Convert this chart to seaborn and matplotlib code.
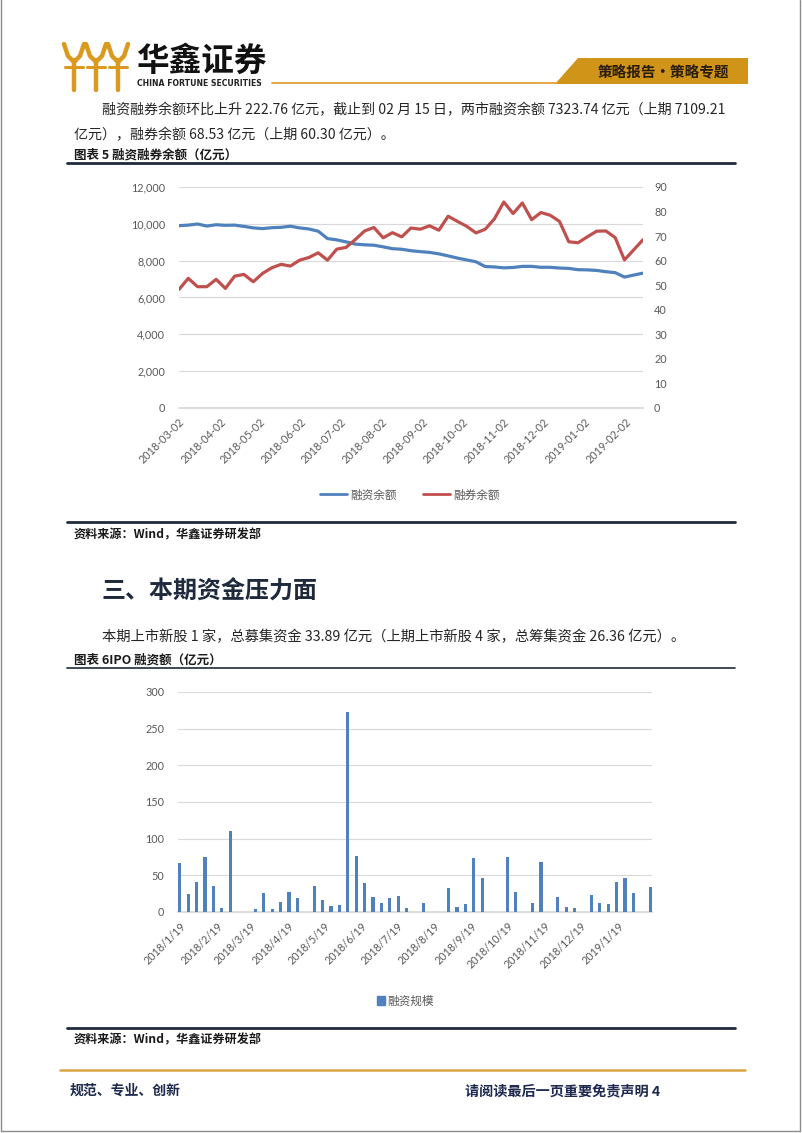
import numpy as np
import pandas as pd
import matplotlib
matplotlib.use("Agg")
import matplotlib.pyplot as plt
from matplotlib.lines import Line2D
from matplotlib.patches import Polygon, Patch
from matplotlib.ticker import FuncFormatter, MultipleLocator
import seaborn as sns

# ---------------- data ----------------
margin_dates = list(pd.date_range("2018-03-02", "2019-02-01", freq="7D")) + [pd.Timestamp("2019-02-15")]
financing_balance = [9900, 9930, 9990, 9880, 9950, 9920, 9930, 9860, 9780, 9740,
                     9790, 9810, 9870, 9780, 9720, 9600, 9200, 9130, 9020, 8900,
                     8860, 8840, 8750, 8650, 8620, 8540, 8490, 8450, 8370, 8260,
                     8140, 8040, 7940, 7680, 7660, 7610, 7630, 7690, 7690, 7640,
                     7640, 7600, 7580, 7510, 7500, 7470, 7400, 7350, 7109.21, 7323.74]
securities_balance = [48.3, 52.8, 49.4, 49.4, 52.4, 48.7, 53.7, 54.4, 51.4, 54.8,
                      57.1, 58.5, 57.8, 60.2, 61.3, 63.2, 60.2, 64.7, 65.4, 68.6,
                      72.1, 73.5, 69.3, 71.4, 69.7, 73.3, 72.8, 74.2, 72.4, 78.1,
                      76.0, 74.0, 71.3, 72.8, 77.1, 83.9, 79.2, 83.5, 76.7, 79.6,
                      78.5, 76.0, 67.7, 67.3, 69.7, 72.0, 72.1, 69.4, 60.30, 68.53]
margin_ticks = ["2018-03-02", "2018-04-02", "2018-05-02", "2018-06-02", "2018-07-02",
                "2018-08-02", "2018-09-02", "2018-10-02", "2018-11-02", "2018-12-02",
                "2019-01-02", "2019-02-02"]

ipo_dates = ["2018-01-19", "2018-01-26", "2018-02-02", "2018-02-09", "2018-02-16",
             "2018-02-23", "2018-03-02", "2018-03-23", "2018-03-30", "2018-04-06",
             "2018-04-13", "2018-04-20", "2018-04-27", "2018-05-11", "2018-05-18",
             "2018-05-25", "2018-06-01", "2018-06-08", "2018-06-15", "2018-06-22",
             "2018-06-29", "2018-07-06", "2018-07-13", "2018-07-20", "2018-07-27",
             "2018-08-10", "2018-08-31", "2018-09-07", "2018-09-14", "2018-09-21",
             "2018-09-28", "2018-10-19", "2018-10-26", "2018-11-09", "2018-11-16",
             "2018-11-30", "2018-12-07", "2018-12-14", "2018-12-28", "2019-01-04",
             "2019-01-11", "2019-01-18", "2019-01-25", "2019-02-01", "2019-02-15"]
ipo_amount = [67, 24, 41, 75, 35, 5, 110, 4, 26, 4,
              14, 27, 19, 36, 16, 8, 9.5, 273, 76, 40,
              21, 12, 19, 22, 6, 12.7, 33, 7, 11, 73.6,
              46, 75.5, 27, 12, 68, 21, 6.4, 5, 22.7, 12.7,
              11.4, 41, 46, 26.36, 33.89]
ipo_ticks = ["2018-01-19", "2018-02-19", "2018-03-19", "2018-04-19", "2018-05-19",
             "2018-06-19", "2018-07-19", "2018-08-19", "2018-09-19", "2018-10-19",
             "2018-11-19", "2018-12-19", "2019-01-19"]
ipo_tick_labels = ["2018/1/19", "2018/2/19", "2018/3/19", "2018/4/19", "2018/5/19",
                   "2018/6/19", "2018/7/19", "2018/8/19", "2018/9/19", "2018/10/19",
                   "2018/11/19", "2018/12/19", "2019/1/19"]

# ---------------- style ----------------
sns.set_theme(style="white")
plt.rcParams["font.family"] = ["Noto Sans CJK SC", "DejaVu Sans"]

W, H = 802, 1133
fig = plt.figure(figsize=(W / 100, H / 100), dpi=100)

def fx(x): return x / W
def fy(y): return 1 - y / H
def T(x, y, s, **kw):
    kw.setdefault("va", "center")
    fig.text(fx(x), fy(y), s, **kw)
def L(xs, ys, color, lw, **kw):
    fig.add_artist(Line2D([fx(v) for v in xs], [fy(v) for v in ys], color=color, lw=lw,
                          transform=fig.transFigure, **kw))

BLUE = "#4F81BD"
RED = "#C0504D"
GRID = "#D9D9D9"
TICK = "#595959"
NAVY = "#1F2A3C"
TICKFONT = ["Lato", "DejaVu Sans"]

# ---------------- page frame ----------------
L([1, 1], [0, 1131], "#8C8C8C", 1)
L([800, 800], [0, 1131], "#8C8C8C", 1)
L([1, 800], [1131, 1131], "#8C8C8C", 1)

# ---------------- header ----------------
GOLD = "#D99A1F"
for cx in [74, 96, 118]:
    L([cx - 10, cx - 6, cx, cx + 6, cx + 10], [44, 56, 62, 56, 44], GOLD, 3.2,
      solid_capstyle="round")
    L([cx, cx], [60, 90], GOLD, 3.2, solid_capstyle="round")
    L([cx - 9, cx + 9], [67, 67], GOLD, 2.2)
T(136, 61, "华鑫证券", fontsize=23.5, fontweight="bold", color="#111111")
T(137, 83, "CHINA FORTUNE SECURITIES", fontsize=5.6, fontweight="bold",
  color="#222222", family=["DejaVu Sans"])
L([272, 557], [83, 83], "#E3A03A", 1.3)
fig.add_artist(Polygon([[fx(555), fy(84)], [fx(578), fy(58)], [fx(748), fy(58)], [fx(748), fy(84)]],
                       closed=True, facecolor="#D09418", edgecolor="none",
                       transform=fig.transFigure))
T(663, 72, "策略报告·策略专题", fontsize=10.5, color="#2B1D0E", ha="center",
  fontweight="bold")

# ---------------- text block 1 ----------------
BODY = "#262626"
BODYSIZE = 10.1
T(102, 110, "融资融券余额环比上升 222.76 亿元，截止到 02 月 15 日，两市融资余额 7323.74 亿元（上期 7109.21",
  fontsize=BODYSIZE, color=BODY)
T(74, 135, "亿元），融券余额 68.53 亿元（上期 60.30 亿元）。", fontsize=BODYSIZE, color=BODY)
T(74, 155, "图表 5 融资融券余额（亿元）", fontsize=9, fontweight="bold", color="#1A1A1A")
L([67, 735], [163, 163], NAVY, 2)

# ---------------- chart 1 ----------------
ax1 = fig.add_axes([fx(179), fy(408), fx(643) - fx(179), (408 - 187) / H])
ax1r = ax1.twinx()
df1 = pd.DataFrame({"date": margin_dates, "fin": financing_balance, "sec": securities_balance})
sns.lineplot(data=df1, x="date", y="fin", ax=ax1, color=BLUE, linewidth=2.3, zorder=3)
sns.lineplot(data=df1, x="date", y="sec", ax=ax1r, color=RED, linewidth=2.3, zorder=3)
ax1.set_ylim(0, 12000)
ax1r.set_ylim(0, 90)
ax1.set_xlim(pd.Timestamp("2018-03-02"), pd.Timestamp("2019-02-15"))
ax1.yaxis.set_major_locator(MultipleLocator(2000))
ax1r.yaxis.set_major_locator(MultipleLocator(10))
ax1.yaxis.set_major_formatter(FuncFormatter(lambda v, p: f"{int(v):,}"))
ax1.yaxis.grid(True, color=GRID, lw=0.8)
ax1.set_axisbelow(True)
tick_dates = pd.to_datetime(margin_ticks)
ax1.set_xticks(tick_dates)
ax1.set_xticklabels(margin_ticks, rotation=45, ha="right", rotation_mode="anchor")
for a in (ax1, ax1r):
    a.set_xlabel("")
    a.set_ylabel("")
    for s in a.spines.values():
        s.set_visible(False)
ax1.spines["bottom"].set_visible(True)
ax1.spines["bottom"].set_color(GRID)
ax1.tick_params(axis="x", direction="out", length=4, color=GRID, width=0.8, pad=2,
                labelsize=7.8, labelcolor=TICK)
ax1.tick_params(axis="y", length=0, pad=10, labelsize=7.8, labelcolor=TICK)
ax1r.tick_params(axis="y", length=0, pad=8, labelsize=7.8, labelcolor=TICK)
for lab in ax1.get_xticklabels() + ax1.get_yticklabels() + ax1r.get_yticklabels():
    lab.set_family(TICKFONT)

h1 = [Line2D([], [], color=BLUE, lw=2), Line2D([], [], color=RED, lw=2)]
fig.legend(h1, ["融资余额", "融券余额"], loc="center", bbox_to_anchor=(fx(410), fy(495)),
           ncol=2, frameon=False, handlelength=2.3, handletextpad=0.3, columnspacing=2.2,
           prop={"size": 8.4}, labelcolor=TICK)

L([67, 735], [522, 522], NAVY, 2)
T(74, 535, "资料来源：Wind，华鑫证券研发部", fontsize=8.7, fontweight="bold", color="#1A1A1A")

# ---------------- section 3 ----------------
T(102, 592, "三、本期资金压力面", fontsize=17.3, fontweight="bold", color=NAVY)
T(102, 637, "本期上市新股 1 家，总募集资金 33.89 亿元（上期上市新股 4 家，总筹集资金 26.36 亿元）。",
  fontsize=BODYSIZE + 0.2, color=BODY)
T(74, 660, "图表 6IPO 融资额（亿元）", fontsize=9, fontweight="bold", color="#1A1A1A")
L([67, 735], [668, 668], NAVY, 1.2)

# ---------------- chart 2 ----------------
ax2 = fig.add_axes([fx(178), fy(912), fx(652) - fx(178), (912 - 692) / H])
base = pd.Timestamp("2018-01-19")
ipo_days = (pd.to_datetime(ipo_dates) - base).days.values
df2 = pd.DataFrame({"day": ipo_days, "amt": ipo_amount})
sns.barplot(data=df2, x="day", y="amt", ax=ax2, native_scale=True, orient="x",
            width=0.36, color=BLUE, saturation=1, errorbar=None, linewidth=0,
            edgecolor="none", zorder=3)
ax2.set_xlim(-1.5, 393.5)
ax2.set_ylim(0, 300)
ax2.yaxis.set_major_locator(MultipleLocator(50))
ax2.yaxis.grid(True, color=GRID, lw=0.8)
ax2.set_axisbelow(True)
tick_days = (pd.to_datetime(ipo_ticks) - base).days.values
ax2.set_xticks(tick_days)
ax2.set_xticklabels(ipo_tick_labels, rotation=45, ha="right", rotation_mode="anchor")
ax2.set_xlabel("")
ax2.set_ylabel("")
for s in ax2.spines.values():
    s.set_visible(False)
ax2.spines["bottom"].set_visible(True)
ax2.spines["bottom"].set_color(GRID)
ax2.tick_params(axis="x", direction="out", length=4, color=GRID, width=0.8, pad=2,
                labelsize=7.8, labelcolor=TICK)
ax2.tick_params(axis="y", length=0, pad=10, labelsize=7.8, labelcolor=TICK)
for lab in ax2.get_xticklabels() + ax2.get_yticklabels():
    lab.set_family(TICKFONT)

fig.legend([Patch(color=BLUE)], ["融资规模"], loc="center", bbox_to_anchor=(fx(405), fy(1001)),
           frameon=False, handlelength=0.7, handleheight=0.7, handletextpad=0.2,
           prop={"size": 8.4}, labelcolor=TICK)

L([67, 735], [1028, 1028], NAVY, 2)
T(74, 1040, "资料来源：Wind，华鑫证券研发部", fontsize=8.7, fontweight="bold", color="#1A1A1A")

# ---------------- footer ----------------
L([60, 745], [1070, 1070], "#D9A441", 1.8)
T(70, 1091, "规范、专业、创新", fontsize=10, fontweight="bold", color="#1F2A50")
T(465, 1091, "请阅读最后一页重要免责声明 4", fontsize=10.2, fontweight="bold", color="#1F2A50")

fig.savefig("out.png", dpi=100)
